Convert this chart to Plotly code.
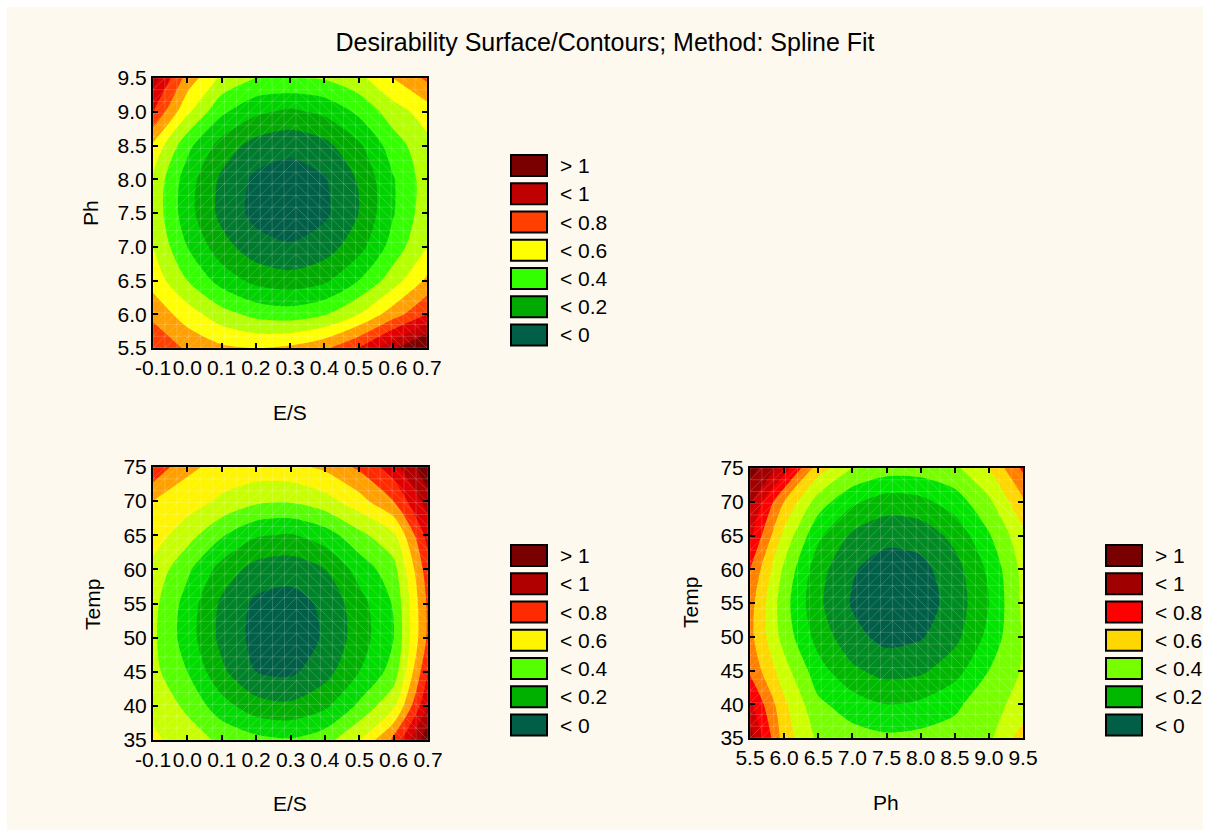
import plotly.graph_objects as go

W, H = 1210, 837
FONT = "Liberation Sans, Arial, sans-serif"

TITLE = "Desirability Surface/Contours; Method: Spline Fit"

# ---------------- data ----------------
es = [-0.1, 0.0, 0.1, 0.2, 0.3, 0.4, 0.5, 0.6, 0.7]
ph = [5.5, 6.0, 6.5, 7.0, 7.5, 8.0, 8.5, 9.0, 9.5]
temp = [35, 40, 45, 50, 55, 60, 65, 70, 75]

es_labels = ["-0.1", "0.0", "0.1", "0.2", "0.3", "0.4", "0.5", "0.6", "0.7"]
ph_labels = ["5.5", "6.0", "6.5", "7.0", "7.5", "8.0", "8.5", "9.0", "9.5"]
temp_labels = ["35", "40", "45", "50", "55", "60", "65", "70", "75"]

# desirability; rows = y values (ascending), cols = x values
z_es_ph = [
    [0.80, 0.68, 0.62, 0.60, 0.62, 0.68, 0.80, 0.98, 1.15],
    [0.67, 0.55, 0.44, 0.37, 0.35, 0.39, 0.50, 0.65, 0.80],
    [0.56, 0.40, 0.26, 0.17, 0.14, 0.18, 0.30, 0.45, 0.62],
    [0.50, 0.30, 0.14, 0.04, 0.01, 0.05, 0.16, 0.34, 0.50],
    [0.47, 0.24, 0.07, -0.03, -0.06, -0.02, 0.10, 0.29, 0.46],
    [0.48, 0.25, 0.08, -0.02, -0.05, -0.01, 0.11, 0.29, 0.45],
    [0.58, 0.33, 0.16, 0.06, 0.03, 0.07, 0.18, 0.35, 0.47],
    [0.80, 0.52, 0.32, 0.22, 0.18, 0.22, 0.32, 0.45, 0.55],
    [0.95, 0.66, 0.48, 0.40, 0.40, 0.41, 0.47, 0.60, 0.72],
]

z_es_temp = [
    [0.52, 0.45, 0.38, 0.33, 0.31, 0.36, 0.50, 0.72, 1.08],
    [0.47, 0.38, 0.24, 0.14, 0.12, 0.18, 0.32, 0.48, 0.90],
    [0.43, 0.30, 0.12, 0.00, -0.02, 0.06, 0.20, 0.34, 0.80],
    [0.42, 0.25, 0.07, -0.03, -0.05, 0.01, 0.15, 0.30, 0.72],
    [0.43, 0.26, 0.08, -0.02, -0.04, 0.02, 0.16, 0.31, 0.72],
    [0.47, 0.32, 0.16, 0.06, 0.04, 0.10, 0.24, 0.36, 0.76],
    [0.55, 0.44, 0.31, 0.21, 0.19, 0.25, 0.37, 0.48, 0.84],
    [0.60, 0.55, 0.48, 0.42, 0.41, 0.46, 0.56, 0.70, 0.95],
    [0.78, 0.62, 0.57, 0.56, 0.57, 0.62, 0.72, 0.86, 1.08],
]

z_ph_temp = [
    [0.95, 0.55, 0.38, 0.34, 0.32, 0.33, 0.34, 0.38, 0.55],
    [0.82, 0.52, 0.32, 0.25, 0.20, 0.22, 0.28, 0.36, 0.44],
    [0.68, 0.44, 0.24, 0.12, 0.06, 0.08, 0.16, 0.30, 0.41],
    [0.63, 0.36, 0.16, 0.03, -0.03, -0.01, 0.07, 0.23, 0.41],
    [0.64, 0.34, 0.12, -0.01, -0.06, -0.05, 0.04, 0.20, 0.42],
    [0.70, 0.38, 0.14, 0.01, -0.05, -0.03, 0.06, 0.22, 0.43],
    [0.82, 0.47, 0.22, 0.08, 0.03, 0.04, 0.13, 0.29, 0.47],
    [0.92, 0.60, 0.35, 0.22, 0.15, 0.17, 0.25, 0.38, 0.58],
    [1.05, 0.85, 0.55, 0.40, 0.35, 0.35, 0.38, 0.50, 0.72],
]

level_start, level_end, level_step = 0.0, 1.0, 0.1
legend_labels = ["> 1", "< 1", "< 0.8", "< 0.6", "< 0.4", "< 0.2", "< 0"]
legend_bands = [11, 10, 8, 6, 4, 2, 0]

# band colours (below 0, 0-0.1, ..., 0.9-1, above 1)
bands_tl = ["#005f46", "#007a2e", "#00aa00", "#00d200", "#33ff00", "#b4ff00",
            "#ffff00", "#ffa000", "#ff4000", "#e00000", "#c00000", "#7a0000"]
bands_bl = ["#005f46", "#008228", "#00b000", "#00dc00", "#55ff00", "#c8ff00",
            "#fff500", "#ffa000", "#ff2a00", "#e00000", "#b00000", "#780000"]
bands_br = ["#005f46", "#008a22", "#00b800", "#00e400", "#77ff00", "#ccff00",
            "#ffd700", "#ff8000", "#ff0000", "#d00000", "#a00000", "#780000"]

BG = "#FDF9EE"


def step_scale(colors):
    n = len(colors) - 1
    scale = []
    for k, c in enumerate(colors):
        lo = max(0.0, (k - 0.5) / n)
        hi = min(1.0, (k + 0.5) / n)
        scale.append([lo, c])
        scale.append([hi, c])
    return scale


def px2fx(px):
    return px / W


def py2fy(py):
    return 1 - py / H


panels = [
    dict(x=es, y=ph, z=z_es_ph, colors=bands_tl, xt=es_labels, yt=ph_labels,
         box=(153, 427, 78, 348), xtitle="E/S", ytitle="Ph",
         xtitle_pos=(290, 413), ytitle_pos=(90, 213),
         leg_x=(511, 547, 558), leg_y0=165.5),
    dict(x=es, y=temp, z=z_es_temp, colors=bands_bl, xt=es_labels, yt=temp_labels,
         box=(153, 428, 467, 740), xtitle="E/S", ytitle="Temp",
         xtitle_pos=(290, 803), ytitle_pos=(92, 604),
         leg_x=(511, 547, 558), leg_y0=555.5),
    dict(x=ph, y=temp, z=z_ph_temp, colors=bands_br, xt=ph_labels, yt=temp_labels,
         box=(750, 1023, 468, 738), xtitle="Ph", ytitle="Temp",
         xtitle_pos=(886, 802), ytitle_pos=(690, 603),
         leg_x=(1106, 1142, 1153), leg_y0=555.5),
]

fig = go.Figure()
layout_axes = {}
shapes = [dict(type="rect", xref="paper", yref="paper", x0=px2fx(7), x1=px2fx(W - 7),
               y0=py2fy(H - 7), y1=py2fy(7), fillcolor=BG, line=dict(width=0),
               layer="below")]
annotations = []


def mesh(xs, ys, n=23, apex=12):
    x0, x1 = xs[0], xs[-1]
    y0, y1 = ys[0], ys[-1]
    gx = [x0 + (x1 - x0) * i / n for i in range(n + 1)]
    gy = [y0 + (y1 - y0) * j / n for j in range(n + 1)]
    X, Y = [], []
    for v in gx:
        X += [v, v, None]
        Y += [y0, y1, None]
    for v in gy:
        X += [x0, x1, None]
        Y += [v, v, None]
    for i in range(n):
        for j in range(n):
            X += [gx[i], gx[i + 1], None]
            if i < apex:
                Y += [gy[j], gy[j + 1], None]
            else:
                Y += [gy[j + 1], gy[j], None]
    return X, Y


for idx, p in enumerate(panels, start=1):
    xa = "x" if idx == 1 else f"x{idx}"
    ya = "y" if idx == 1 else f"y{idx}"
    fig.add_trace(go.Contour(
        x=p["x"], y=p["y"], z=p["z"], xaxis=xa, yaxis=ya,
        colorscale=step_scale(p["colors"]), showscale=False,
        autocontour=False,
        contours=dict(start=level_start, end=level_end, size=level_step,
                      coloring="fill", showlines=False),
        line=dict(width=0, smoothing=0.8),
        hoverinfo="skip",
    ))
    mx, my = mesh(p["x"], p["y"])
    fig.add_trace(go.Scatter(
        x=mx, y=my, xaxis=xa, yaxis=ya, mode="lines",
        line=dict(color="rgba(255,255,255,0.22)", width=0.8),
        hoverinfo="skip", showlegend=False,
    ))

    x0p, x1p, y0p, y1p = p["box"]
    common = dict(
        showline=True, linecolor="black", linewidth=2, mirror="ticks",
        ticks="inside", ticklen=5, tickwidth=1.5, tickcolor="black",
        showgrid=False, zeroline=False, automargin=False, fixedrange=True,
        tickangle=0,
        tickfont=dict(family=FONT, size=21, color="black"),
    )
    layout_axes["xaxis" if idx == 1 else f"xaxis{idx}"] = dict(
        common, domain=[px2fx(x0p), px2fx(x1p)], anchor=ya,
        range=[p["x"][0], p["x"][-1]], tickvals=p["x"], ticktext=p["xt"],
    )
    layout_axes["yaxis" if idx == 1 else f"yaxis{idx}"] = dict(
        common, domain=[py2fy(y1p), py2fy(y0p)], anchor=xa,
        range=[p["y"][0], p["y"][-1]], tickvals=p["y"], ticktext=p["yt"],
    )

    # axis titles
    annotations.append(dict(text=p["xtitle"], x=px2fx(p["xtitle_pos"][0]),
                            y=py2fy(p["xtitle_pos"][1]), xref="paper", yref="paper",
                            showarrow=False, xanchor="center", yanchor="middle",
                            font=dict(family=FONT, size=21, color="black")))
    annotations.append(dict(text=p["ytitle"], x=px2fx(p["ytitle_pos"][0]),
                            y=py2fy(p["ytitle_pos"][1]), xref="paper", yref="paper",
                            showarrow=False, xanchor="center", yanchor="middle",
                            textangle=-90,
                            font=dict(family=FONT, size=21, color="black")))

    # legend boxes
    bx0, bx1, tx = p["leg_x"]
    for k, (lab, b) in enumerate(zip(legend_labels, legend_bands)):
        cy = p["leg_y0"] + k * 28.25
        shapes.append(dict(type="rect", xref="paper", yref="paper",
                           x0=px2fx(bx0), x1=px2fx(bx1),
                           y0=py2fy(cy + 10.5), y1=py2fy(cy - 10.5),
                           fillcolor=p["colors"][b],
                           line=dict(color="black", width=2)))
        annotations.append(dict(text=lab.replace("<", "&lt;").replace(">", "&gt;"),
                                x=px2fx(tx), y=py2fy(cy), xref="paper", yref="paper",
                                showarrow=False, xanchor="left", yanchor="middle",
                                font=dict(family=FONT, size=21, color="black")))

fig.update_layout(
    width=W, height=H, autosize=False,
    margin=dict(l=0, r=0, t=0, b=0, pad=0),
    paper_bgcolor="white", plot_bgcolor=BG,
    showlegend=False,
    title=dict(text=TITLE, x=0.5, xanchor="center", xref="paper",
               y=py2fy(42), yref="container", yanchor="middle",
               font=dict(family=FONT, size=25, color="black")),
    shapes=shapes, annotations=annotations,
    **layout_axes,
)

fig.write_html("out.html", include_plotlyjs=True,
               config={"displayModeBar": False},
               post_script="document.body.style.margin='0';document.body.style.overflow='hidden';")
